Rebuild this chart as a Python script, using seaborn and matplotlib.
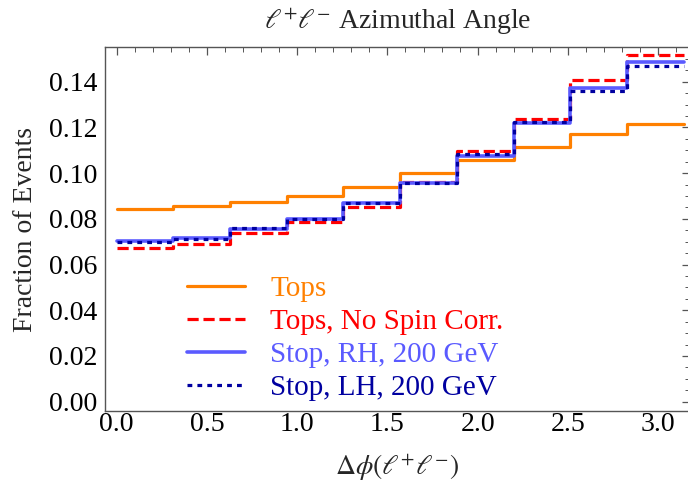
import numpy as np
import pandas as pd
import matplotlib
matplotlib.use("Agg")
import matplotlib.pyplot as plt
from matplotlib.ticker import MultipleLocator, FormatStrFormatter
import seaborn as sns

# --- data: fraction of events per bin, 10 bins in [0, pi] ---
n_bins = 10
bin_width = np.pi / n_bins
bin_centers = (np.arange(n_bins) + 0.5) * bin_width

tops = [0.0843, 0.0857, 0.0875, 0.0901, 0.0941, 0.0999, 0.1057, 0.1115, 0.1171, 0.1213]
tops_no_spin = [0.0671, 0.0691, 0.0739, 0.0786, 0.0850, 0.0963, 0.1098, 0.1237, 0.1409, 0.1516]
stop_rh = [0.0703, 0.0717, 0.0755, 0.0799, 0.0871, 0.0958, 0.1076, 0.1220, 0.1372, 0.1486]
stop_lh = [0.0700, 0.0712, 0.0759, 0.0799, 0.0869, 0.0958, 0.1084, 0.1222, 0.1359, 0.1471]

labels = ["Tops", "Tops, No Spin Corr.", "Stop, RH, 200 GeV", "Stop, LH, 200 GeV"]
series = [tops, tops_no_spin, stop_rh, stop_lh]
colors = ["#ff8000", "#ff0000", "#5a5aff", "#0000a0"]
styles = ["-", (0, (3.5, 1.5)), "-", (0, (1.5, 1.6))]
widths = [2.3, 2.3, 2.6, 2.3]

sns.set_theme(style="white")
plt.rcParams["font.family"] = ["Liberation Serif", "DejaVu Serif"]
plt.rcParams["mathtext.fontset"] = "stix"

fig = plt.figure(figsize=(6.88, 4.87), dpi=100)
ax = fig.add_axes([104.5 / 688, 1 - 411 / 487, (690 - 104.5) / 688, (411 - 47) / 487])

for lab, vals, col, ls, lw in zip(labels, series, colors, styles, widths):
    df = pd.DataFrame({"dphi": bin_centers, "frac": vals})
    sns.histplot(data=df, x="dphi", weights="frac", binwidth=bin_width,
                 binrange=(0, np.pi), element="step", fill=False, color=col,
                 linestyle=ls, linewidth=lw, label=lab, ax=ax)

ax.set_xlim(-0.067, 3.176)
ax.set_ylim(-0.0041, 0.1552)

ax.xaxis.set_major_locator(MultipleLocator(0.5))
ax.xaxis.set_minor_locator(MultipleLocator(0.1))
ax.yaxis.set_major_locator(MultipleLocator(0.02))
ax.yaxis.set_minor_locator(MultipleLocator(0.005))
ax.xaxis.set_major_formatter(FormatStrFormatter("%.1f"))
ax.yaxis.set_major_formatter(FormatStrFormatter("%.2f"))
ax.tick_params(which="both", direction="in", top=True, right=True,
               color="#555555", labelsize=20, labelcolor="black")
ax.tick_params(which="major", length=6, width=0.9)
ax.tick_params(axis="y", which="major", pad=5)
ax.tick_params(axis="x", which="major", pad=0.5)
ax.tick_params(which="minor", length=3.5, width=0.7)
for sp in ax.spines.values():
    sp.set_color("#555555")
    sp.set_linewidth(1.0)

ax.set_title(r"$\ell^{+}\ell^{-}$ Azimuthal Angle", fontsize=20, pad=13)
ax.set_xlabel(r"$\Delta\phi(\ell^{+}\ell^{-})$", fontsize=20, labelpad=11)
ax.set_ylabel("Fraction of Events", fontsize=20)
ax.yaxis.set_label_coords(-0.114, 0.5)

leg = ax.legend(loc="upper left", bbox_to_anchor=(187 / 688, 1 - 276 / 487),
                bbox_transform=fig.transFigure, frameon=False, fontsize=21,
                borderpad=0, borderaxespad=0, handlelength=2.0,
                handletextpad=0.86, labelspacing=0.22, labelcolor="linecolor")

fig.savefig("out.png", dpi=100)
